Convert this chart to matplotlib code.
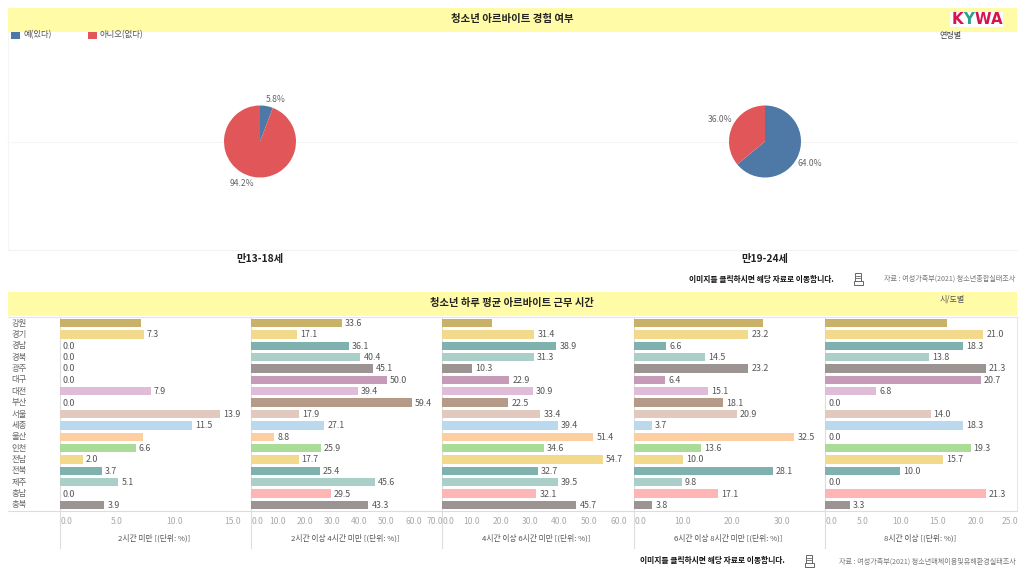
# 청소년 아르바이트 경험 여부 / 하루 평균 근무 시간 대시보드
import numpy as np
import matplotlib
matplotlib.use('Agg')
import matplotlib.pyplot as plt
from matplotlib.patches import Rectangle

plt.rcParams['font.family'] = ['Noto Sans CJK KR', 'DejaVu Sans']

# 데이터
age_groups = ['만13-18세', '만19-24세']
pie_labels = ['예(있다)', '아니오(없다)']
yes_values = [5.8, 64.0]
no_values = [94.2, 36.0]

regions = ['강원', '경기', '경남', '경북', '광주', '대구', '대전', '부산', '서울',
           '세종', '울산', '인천', '전남', '전북', '제주', '충남', '충북']
hours_titles = ['2시간 미만 [(단위: %)]', '2시간 이상 4시간 미만 [(단위: %)]',
                '4시간 이상 6시간 미만 [(단위: %)]', '6시간 이상 8시간 미만 [(단위: %)]',
                '8시간 이상 [(단위: %)]']
under_2 = [7.1, 7.3, 0.0, 0.0, 0.0, 0.0, 7.9, 0.0, 13.9, 11.5, 7.2, 6.6, 2.0, 3.7, 5.1, 0.0, 3.9]
from_2_to_4 = [33.6, 17.1, 36.1, 40.4, 45.1, 50.0, 39.4, 59.4, 17.9, 27.1, 8.8, 25.9, 17.7, 25.4, 45.6, 29.5, 43.3]
from_4_to_6 = [16.9, 31.4, 38.9, 31.3, 10.3, 22.9, 30.9, 22.5, 33.4, 39.4, 51.4, 34.6, 54.7, 32.7, 39.5, 32.1, 45.7]
from_6_to_8 = [26.2, 23.2, 6.6, 14.5, 23.2, 6.4, 15.1, 18.1, 20.9, 3.7, 32.5, 13.6, 10.0, 28.1, 9.8, 17.1, 3.8]
over_8 = [16.2, 21.0, 18.3, 13.8, 21.3, 20.7, 6.8, 0.0, 14.0, 18.3, 0.0, 19.3, 15.7, 10.0, 0.0, 21.3, 3.3]
hours_data = [under_2, from_2_to_4, from_4_to_6, from_6_to_8, over_8]

# 강원, 울산의 2시간 미만처럼 원본에 라벨이 없는 막대
hidden_labels = [(0, 0), (0, 10), (2, 0), (3, 0), (4, 0)]

# 패널별 축 범위와 눈금
x_limits = [16.6, 70.4, 65.1, 38.7, 25.4]
x_ticks = [[0, 5, 10, 15], [0, 10, 20, 30, 40, 50, 60, 70], [0, 10, 20, 30, 40, 50, 60],
           [0, 10, 20, 30], [0, 5, 10, 15, 20, 25]]

blue = '#4E79A7'
red = '#E15759'
region_colors = ['#C9B16A', '#F2D98C', '#7FB2AE', '#A9CFC8', '#9C9492', '#C59BB7', '#E0BCD8',
                 '#B59A88', '#E2C9BE', '#BAD8EE', '#FDCE9F', '#ABDC97', '#F2D98C', '#7FB2AE',
                 '#A9CFC8', '#FFB5B5', '#9C9492']
W, H = 1024, 576


def px_rect(x0, y0, x1, y1):
    # 픽셀 좌표(위가 0)를 figure 비율로 변환
    return [x0 / W, 1 - y1 / H, (x1 - x0) / W, (y1 - y0) / H]


def put_text(x, y, s, **kw):
    fig.text(x / W, 1 - y / H, s, ha=kw.pop('ha', 'center'), va='center', **kw)


def hline(x0, x1, y, color='#E6E6E6', lw=0.8, zorder=-1):
    fig.add_artist(plt.Line2D([x0 / W, x1 / W], [1 - y / H, 1 - y / H], color=color, lw=lw, zorder=zorder))


def vline(x, y0, y1, color='#DDDDDD', lw=0.8):
    fig.add_artist(plt.Line2D([x / W, x / W], [1 - y0 / H, 1 - y1 / H], color=color, lw=lw, zorder=-1))


def draw_icon(x, y):
    # 자료 링크 아이콘
    fig.add_artist(Rectangle((x / W, 1 - (y + 6) / H), 6 / W, 11 / H, fc='white', ec='#666666', lw=0.7))
    fig.add_artist(Rectangle(((x - 1.5) / W, 1 - (y + 7) / H), 9 / W, 4 / H, fc='white', ec='#666666', lw=0.7))
    hline(x + 1.2, x + 4.8, y - 2, color='#666666', lw=0.6, zorder=3)
    hline(x + 1.2, x + 4.8, y, color='#666666', lw=0.6, zorder=3)


fig = plt.figure(figsize=(W / 100, H / 100), dpi=100, facecolor='white')

# 범례 (윗부분이 배너에 가려짐)
fig.add_artist(Rectangle((11 / W, 1 - 39 / H), 9 / W, 9 / H, fc=blue, ec='none'))
fig.add_artist(Rectangle((88 / W, 1 - 39 / H), 9 / W, 9 / H, fc=red, ec='none'))
put_text(23, 35, pie_labels[0], ha='left', fontsize=6, color='#555555')
put_text(100, 35, pie_labels[1], ha='left', fontsize=6, color='#555555')

# 상단 배너
for y0, y1 in [(8, 31.5), (292, 316)]:
    fig.add_artist(Rectangle((8 / W, 1 - y1 / H), 1009 / W, (y1 - y0) / H, fc='#FFFBA6', ec='none'))
put_text(512, 19, '청소년 아르바이트 경험 여부', fontsize=7.5, fontweight='bold', color='#222222')
put_text(512, 303, '청소년 하루 평균 아르바이트 근무 시간', fontsize=7.4, fontweight='bold', color='#222222')

# 로고
fig.add_artist(Rectangle((950 / W, 1 - 27 / H), 53 / W, 15.5 / H, fc='white', ec='none'))
for lx, letter, lc in zip([957.5, 969, 983, 997], 'KYWA', ['#D6134F', '#2E9E8F', '#D6134F', '#D6134F']):
    put_text(lx, 19.5, letter, fontsize=10.8, fontweight='bold', color=lc, family='DejaVu Sans')

put_text(951, 35.5, '연령별', fontsize=5.8, color='#444444')
put_text(952, 299, '시/도별', fontsize=5.8, color='#555555')

# 파이 영역 구분선
hline(8, 1017, 141.5, color='#F5F5F5')
hline(8, 1017, 250, color='#F2F2F2')
vline(8, 31, 250, color='#F5F5F5')

pie_centers = [260, 765]
pct_pos = [[(275.5, 100), (242, 184)], [(809.5, 164), (720, 120)]]
for i, cx in enumerate(pie_centers):
    ax = fig.add_axes(px_rect(cx - 36, 105.5, cx + 36, 177.5))
    ax.pie([yes_values[i], no_values[i]], colors=[blue, red], startangle=90, counterclock=False,
           radius=1.0, wedgeprops={'edgecolor': 'none'})
    ax.set_xlim(-1, 1)
    ax.set_ylim(-1, 1)
    for (tx, ty), val in zip(pct_pos[i], [yes_values[i], no_values[i]]):
        put_text(tx, ty, f'{val:.1f}%', fontsize=6.2, color='#666666')
    put_text(cx, 259.5, age_groups[i], fontsize=7.4, fontweight='bold', color='#222222')

# 막대 패널
panel_lefts = [59.5, 250.5, 442, 633.5, 825]
panel_width = 191.5
for p, left in enumerate(panel_lefts):
    ax = fig.add_axes(px_rect(left, 317, left + panel_width, 511))
    y = np.arange(len(regions))
    ax.barh(y, hours_data[p], height=0.73, color=region_colors, edgecolor='none')
    ax.set_xlim(0, x_limits[p])
    ax.set_ylim(len(regions) - 0.5 + 0.03, -0.5 - 0.03)
    ax.set_xticks([])
    ax.set_yticks([])
    ax.patch.set_alpha(0)
    for s in ax.spines.values():
        s.set_visible(False)
    for r, val in enumerate(hours_data[p]):
        if (p, r) in hidden_labels:
            continue
        ax.annotate(f'{val:.1f}', (val, r), xytext=(2.2, -0.3), textcoords='offset points',
                    va='center', ha='left', fontsize=6.4, color='#555555')

    # x축 눈금 라벨 (양 끝은 패널 안쪽으로 밀림)
    scale = panel_width / x_limits[p]
    for t in x_ticks[p]:
        tx = left + t * scale
        tx = min(max(tx, left + 7), left + panel_width - 7)
        put_text(tx, 522, f'{t:.1f}', fontsize=6.2, color='#AAAAAA')
    put_text(left + panel_width / 2 - 1 if p else 154.5, 538, hours_titles[p], fontsize=5.6, color='#555555')
    vline(left, 317, 548)

vline(1016.5, 317, 511, color='#E6E6E6')
hline(8, 1017, 317)
hline(8, 1017, 511, color='#DDDDDD')

# 지역 라벨
slot = (511 - 317) / (len(regions) + 0.06)
for r, name in enumerate(regions):
    put_text(11.5, 317 + slot * (r + 0.53), name, ha='left', fontsize=6, color='#666666')

# 하단 안내문
put_text(761, 279.5, '이미지를 클릭하시면 해당 자료로 이동합니다.', fontsize=5.6, fontweight='bold', color='#111111')
put_text(712.5, 560, '이미지를 클릭하시면 해당 자료로 이동합니다.', fontsize=5.6, fontweight='bold', color='#111111')
put_text(1015, 278.5, '자료 : 여성가족부(2021) 청소년종합실태조사', ha='right', fontsize=5.1, color='#777777')
put_text(1015.5, 562, '자료 : 여성가족부(2021) 청소년매체이용및유해환경실태조사', ha='right', fontsize=5.1, color='#777777')
draw_icon(855, 278)
draw_icon(806, 560)

fig.savefig('out.png', dpi=100)
